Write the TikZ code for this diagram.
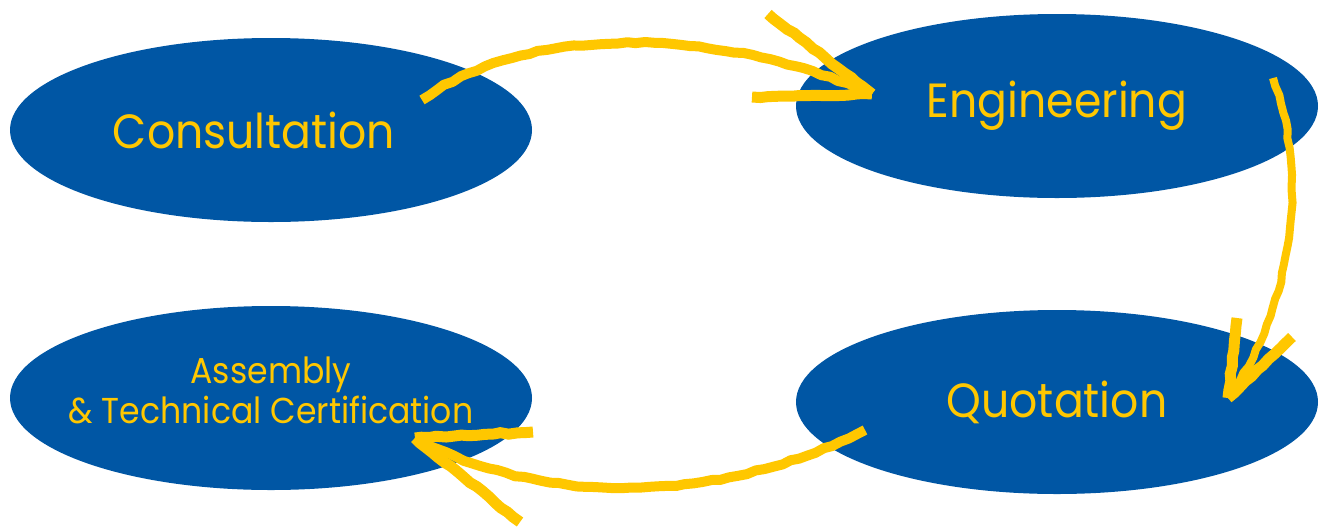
\documentclass[tikz,border=0pt]{standalone}
\usepackage{fontspec}
\setmainfont{Poppins}[FakeStretch=0.92]
\usetikzlibrary{shapes.geometric,decorations.pathmorphing}
\definecolor{cblue}{RGB}{0,86,164}
\definecolor{cyel}{RGB}{255,199,0}
\tikzset{
  oval/.style={ellipse, fill=cblue, minimum width=522pt, minimum height=184pt, inner sep=0pt},
  lbl/.style={text=cyel, font=\fontsize{48}{52}\selectfont, inner sep=0pt, anchor=center},
  lblsmall/.style={text=cyel, font=\fontsize{36}{40}\selectfont, inner sep=0pt, align=center},
  brush/.style={draw=cyel, line width=10pt, line cap=butt, line join=round,
    decorate, decoration={random steps, segment length=9pt, amplitude=0.9pt}},
  brushthin/.style={draw=cyel, line width=8pt, line cap=butt, line join=round,
    decorate, decoration={random steps, segment length=9pt, amplitude=0.9pt}},
  barbstroke/.style={draw=cyel, line width=11pt, line cap=butt,
    decorate, decoration={random steps, segment length=8pt, amplitude=1pt}},
}
\begin{document}
\begin{tikzpicture}[x=1pt,y=-1pt]
\useasboundingbox (0,0) rectangle (1320,528);
% ovals
\node[oval] (cons) at (271,130) {};
\node[oval] (eng)  at (1057,106) {};
\node[oval] (quot) at (1057,402) {};
\node[oval] (asm)  at (271,398) {};
% labels
\node[lbl] (tcons) at (254,130) {Consultation};
\node[lbl] (teng)  at (1057,106) {Engineering};
\node[lbl] (tquot) at (1057,402) {Quotation};
\node[lblsmall] (tasm) at (271,390) {Assembly\\\& Technical Certification};
% arrow 1: Consultation -> Engineering
\coordinate (a1s) at (422,100);
\coordinate (a1t) at (872,94);
\coordinate (a1b) at (768,14);
\coordinate (a1c) at (752,97);
\draw[brush] (a1s) .. controls (530,22) and (720,27) .. (a1t);
\draw[barbstroke] (a1b) -- (a1t);
\draw[barbstroke] (a1c) -- (a1t);
% arrow 2: Engineering -> Quotation
\coordinate (a2s) at (1273,78);
\coordinate (a2t) at (1228,398);
\coordinate (a2b) at (1237,318);
\coordinate (a2c) at (1292,337);
\draw[brushthin] (a2s) .. controls (1307,170) and (1297,300) .. (a2t);
\draw[barbstroke] (a2b) -- (a2t);
\draw[barbstroke] (a2c) -- (a2t);
% arrow 3: Quotation -> Assembly
\coordinate (a3s) at (865,430);
\coordinate (a3t) at (415,438);
\coordinate (a3b) at (533,432);
\coordinate (a3c) at (520,522);
\draw[brush] (a3s) .. controls (740,495) and (560,515) .. (a3t);
\draw[barbstroke] (a3b) -- (a3t);
\draw[barbstroke] (a3c) -- (a3t);
\end{tikzpicture}
\end{document}
